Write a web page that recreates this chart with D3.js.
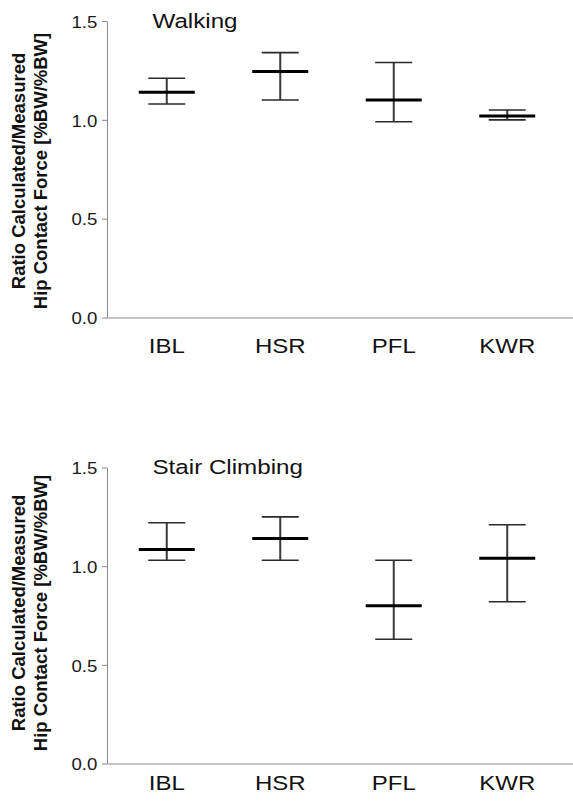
<!DOCTYPE html>
<html>
<head>
<meta charset="utf-8">
<script src="https://cdn.jsdelivr.net/npm/d3@7"></script>
<style>
  body { margin: 0; background: #fff; }
  text { font-family: "Liberation Sans", Arial, sans-serif; }
</style>
</head>
<body>
<div id="chart"></div>
<script>
// data
const categories = ["IBL", "HSR", "PFL", "KWR"];
const yTicks = [0, 0.5, 1.0, 1.5];

const walkingMean = [1.14, 1.245, 1.10, 1.02];
const walkingLow  = [1.08, 1.10, 0.99, 1.00];
const walkingHigh = [1.21, 1.34, 1.29, 1.05];

const stairMean = [1.085, 1.14, 0.80, 1.04];
const stairLow  = [1.03, 1.03, 0.63, 0.82];
const stairHigh = [1.22, 1.25, 1.03, 1.21];

const panels = [
  {title: "Walking", mean: walkingMean, low: walkingLow, high: walkingHigh,
   top: 21, bottom: 317.5, titleY: 27.5, catY: 353, labelY: 171},
  {title: "Stair Climbing", mean: stairMean, low: stairLow, high: stairHigh,
   top: 467.5, bottom: 763.5, titleY: 473.5, catY: 790, labelY: 613}
];

const W = 573, H = 804;
const axisX = 107;

const svg = d3.select("#chart").append("svg")
  .attr("width", W)
  .attr("height", H);

const x = d3.scaleBand()
  .domain(categories)
  .range([axisX, W])
  .paddingInner(0)
  .paddingOuter(0.053)
  .align(0.25);

panels.forEach(p => {
  const y = d3.scaleLinear().domain([0, 1.5]).range([p.bottom, p.top]);
  const g = svg.append("g");

  // y axis
  const yAxis = g.append("g")
    .attr("transform", `translate(${axisX},0)`)
    .call(d3.axisLeft(y).tickValues(yTicks).tickFormat(d3.format(".1f"))
      .tickSize(5).tickSizeOuter(0));
  yAxis.select(".domain").attr("stroke", "#8a8a8a");
  yAxis.selectAll(".tick line").attr("stroke", "#8a8a8a");
  yAxis.selectAll(".tick text")
    .attr("x", 0).attr("dy", null).attr("y", 0)
    .attr("transform", "translate(-9.7,6.3) scale(1.13,1)")
    .attr("font-size", 16.5)
    .attr("font-family", null)
    .attr("fill", "#1a1a1a");

  // x axis
  const xAxis = g.append("g")
    .attr("transform", `translate(0,${y(0)})`)
    .call(d3.axisBottom(x).tickSize(0).tickSizeOuter(0));
  xAxis.select(".domain").attr("stroke", "#8a8a8a");
  xAxis.selectAll(".tick text")
    .attr("y", 0).attr("dy", null)
    .attr("transform", `translate(0,${p.catY - p.bottom}) scale(1.2,1)`)
    .attr("font-size", 20)
    .attr("font-family", null)
    .attr("fill", "#111");

  // title
  g.append("text")
    .attr("transform", `translate(152.5,${p.titleY}) scale(1.24,1)`)
    .attr("font-size", 19.5)
    .attr("fill", "#111")
    .text(p.title);

  // y label
  const lab = g.append("text")
    .attr("transform", `translate(0,${p.labelY}) rotate(-90)`)
    .attr("text-anchor", "middle")
    .attr("font-size", 18.5)
    .attr("font-weight", "bold")
    .attr("fill", "#111");
  lab.append("tspan").attr("x", 0).attr("y", 24.5).text("Ratio Calculated/Measured");
  lab.append("tspan").attr("x", 0).attr("y", 46.5).text("Hip Contact Force [%BW/%BW]");

  // error bars
  const bars = g.append("g").selectAll("g")
    .data(categories.map((c, i) => ({c, m: p.mean[i], lo: p.low[i], hi: p.high[i]})))
    .join("g")
    .attr("transform", d => `translate(${x(d.c) + x.bandwidth() / 2},0)`);

  bars.append("line")
    .attr("x1", 0).attr("x2", 0)
    .attr("y1", d => y(d.lo)).attr("y2", d => y(d.hi))
    .attr("stroke", "#3a3a3a").attr("stroke-width", 2);

  bars.selectAll(".cap")
    .data(d => [d.lo, d.hi])
    .join("line")
    .attr("class", "cap")
    .attr("x1", -18.5).attr("x2", 18.5)
    .attr("y1", v => y(v)).attr("y2", v => y(v))
    .attr("stroke", "#2a2a2a").attr("stroke-width", 1.6);

  bars.append("line")
    .attr("x1", -28).attr("x2", 28)
    .attr("y1", d => y(d.m)).attr("y2", d => y(d.m))
    .attr("stroke", "#000").attr("stroke-width", 3);
});
</script>
</body>
</html>
